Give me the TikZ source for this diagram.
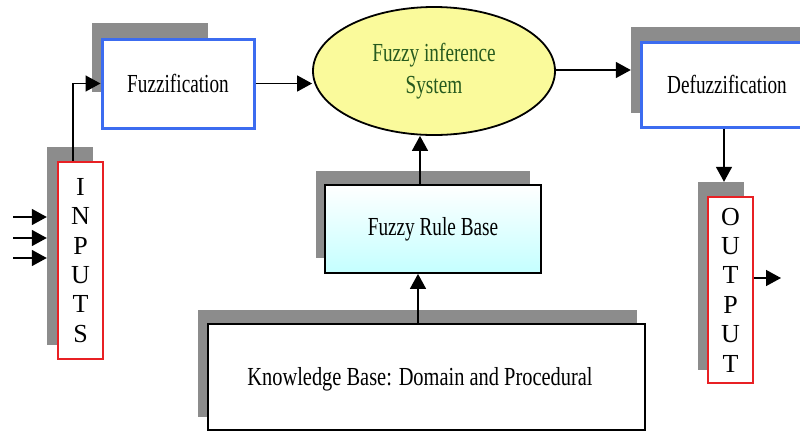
\documentclass[tikz,border=0pt]{standalone}
\usepackage{fontspec}
\usepackage{graphicx}
\setmainfont{Liberation Serif}
\usetikzlibrary{shapes.geometric,arrows.meta}
\definecolor{shadowgray}{RGB}{140,140,140}
\definecolor{boxblue}{RGB}{60,108,240}
\definecolor{boxred}{RGB}{232,32,36}
\definecolor{fisyellow}{RGB}{250,250,155}
\definecolor{fisgreen}{RGB}{38,90,30}
\definecolor{rulecyan}{RGB}{196,255,255}
\newcommand{\hs}[1]{\scalebox{0.74}[1]{#1}}
\tikzset{
  shadowbox/.style={fill=shadowgray, draw=none, inner sep=0pt},
  bluebox/.style={draw=boxblue, line width=3pt, fill=white, inner sep=0pt,
     font=\fontsize{26}{30}\selectfont},
  redbox/.style={draw=boxred, line width=1.8pt, fill=white, inner sep=0pt, align=center},
  blackbox/.style={draw=black, line width=1.8pt, fill=white, inner sep=0pt,
     font=\fontsize{26}{30}\selectfont},
  conn/.style={line width=1.5pt, -{Triangle[length=15pt,width=16pt]}},
  vletters/.style={font=\fontsize{26}{29.4}\selectfont}
}
\begin{document}
\begin{tikzpicture}[x=1pt,y=-1pt]
\clip (0,0) rectangle (800,432);
\fill[white] (0,0) rectangle (800,432);

% shadows
\node[shadowbox, minimum width=116pt, minimum height=69pt] (fuzsh) at (150,57.5) {};
\node[shadowbox, minimum width=200pt, minimum height=86pt] (defsh) at (731,70) {};
\node[shadowbox, minimum width=46pt, minimum height=198pt] (inpsh) at (70,246) {};
\node[shadowbox, minimum width=46pt, minimum height=188pt] (outsh) at (721,276) {};
\node[shadowbox, minimum width=214pt, minimum height=87pt] (frbsh) at (423,214.5) {};
\node[shadowbox, minimum width=439pt, minimum height=107pt] (kbsh) at (417.5,363.5) {};

% main boxes
\node[bluebox, minimum width=152pt, minimum height=89pt] (fuz) at (178,83.5) {\hs{Fuzzification}};
\node[bluebox, minimum width=172pt, minimum height=85pt] (defz) at (727,84.5) {\hs{Defuzzification}};
\node[ellipse, draw=black, line width=1.8pt, fill=fisyellow, minimum width=242pt, minimum height=128pt,
      inner sep=0pt, align=center, text=fisgreen, font=\fontsize{26}{34}\selectfont]
      (fis) at (434,71) {\hs{Fuzzy inference}\\[-2pt]\hs{System}};
\node[blackbox, minimum width=216pt, minimum height=88pt, shading=axis, top color=white, bottom color=rulecyan]
      (frb) at (433,229) {\hs{Fuzzy Rule Base}};
\node[blackbox, minimum width=437pt, minimum height=106pt] (kb) at (426.5,377) {};
\node[font=\fontsize{26}{30}\selectfont] (kbtext) at (420,379)
      {\scalebox{0.785}[1]{Knowledge Base: Domain and Procedural}};
\node[redbox, minimum width=45pt, minimum height=197pt, vletters] (inp) at (80.5,260.5)
      {I\\N\\P\\U\\T\\S};
\node[redbox, minimum width=45pt, minimum height=186pt, vletters] (outp) at (730.5,290)
      {O\\U\\T\\P\\U\\T};

% free ends
\coordinate (in1) at (13,217);
\coordinate (in2) at (13,238);
\coordinate (in3) at (13,258);
\coordinate (outend) at (781,278);

% connectors
\draw[conn] (in1) -- (in1 -| inpsh.west);
\draw[conn] (in2) -- (in2 -| inpsh.west);
\draw[conn] (in3) -- (in3 -| inpsh.west);
\draw[conn] ([xshift=-7.5pt]inp.north) |- (fuz.west);
\draw[conn] (fuz.east) -- (fuz.east -| fis.west);
\draw[conn] ([yshift=1pt]fis.east) -- ([yshift=1pt]fis.east -| defsh.west);
\draw[conn] ([xshift=-3pt]defz.south) -- ([xshift=-3pt]defz.south |- outsh.north);
\draw[conn] (outp.east |- outend) -- (outend);
\draw[conn] ([xshift=-13pt]frb.north) -- ([xshift=-13pt]frb.north |- fis.south);
\draw[conn] ([xshift=-8.5pt]kb.north) -- ([xshift=-8.5pt]kb.north |- frb.south);
\end{tikzpicture}
\end{document}
